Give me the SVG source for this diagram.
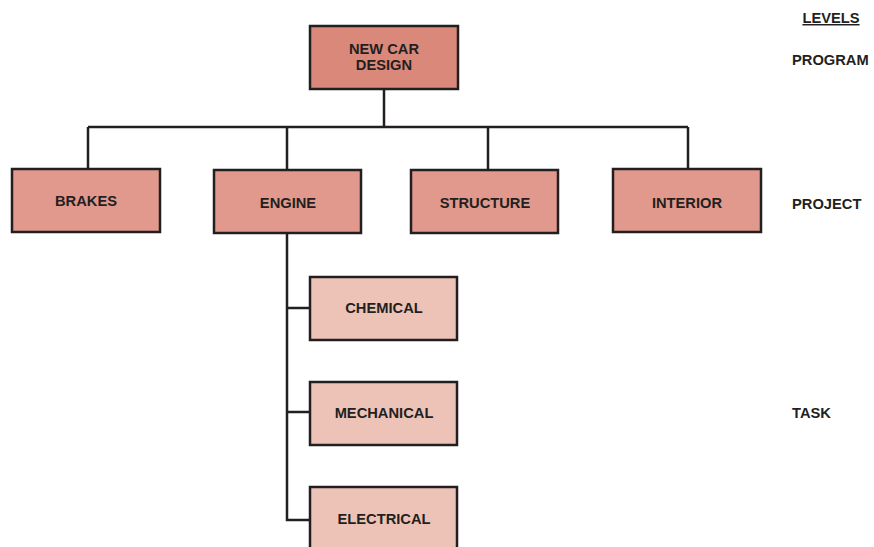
<svg xmlns="http://www.w3.org/2000/svg" width="874" height="547" viewBox="0 0 874 547">
<style>
.box{stroke:#231f20;stroke-width:2.5}
.prog{fill:#da887a}
.proj{fill:#e0998c}
.task{fill:#edc3b7}
.t{font-family:"Liberation Sans",Arial,sans-serif;font-weight:bold;font-size:14.7px;fill:#231f20;text-anchor:middle}
.lv{font-family:"Liberation Sans",Arial,sans-serif;font-weight:bold;font-size:14.7px;fill:#231f20}
.c{fill:none;stroke:#231f20;stroke-width:2.5}
</style>
<rect width="874" height="547" fill="#ffffff"/>
<g id="connectors">
<path class="c" d="M384 89V127M88 127H688M88 127V169M287 127V169M488 127V169M688 127V169"/>
<path class="c" d="M287 232V520H310M287 308H310M287 412H310"/>
</g>
<g id="new-car-design">
<rect class="box prog" x="310" y="26" width="148" height="63"/>
<text class="t" x="384" y="54">NEW CAR</text>
<text class="t" x="384" y="70">DESIGN</text>
</g>
<g id="brakes">
<rect class="box proj" x="12" y="169" width="148" height="63"/>
<text class="t" x="86" y="206">BRAKES</text>
</g>
<g id="engine">
<rect class="box proj" x="214" y="170" width="147" height="63"/>
<text class="t" x="288" y="208">ENGINE</text>
</g>
<g id="structure">
<rect class="box proj" x="411" y="170" width="147" height="63"/>
<text class="t" x="485" y="208">STRUCTURE</text>
</g>
<g id="interior">
<rect class="box proj" x="613" y="169" width="148" height="63"/>
<text class="t" x="687" y="208">INTERIOR</text>
</g>
<g id="chemical">
<rect class="box task" x="310" y="277" width="147" height="63"/>
<text class="t" x="384" y="313">CHEMICAL</text>
</g>
<g id="mechanical">
<rect class="box task" x="310" y="382" width="147" height="63"/>
<text class="t" x="384" y="418">MECHANICAL</text>
</g>
<g id="electrical">
<rect class="box task" x="310" y="487" width="147" height="63"/>
<text class="t" x="384" y="524">ELECTRICAL</text>
</g>
<g id="levels">
<text class="lv" x="831" y="23" text-anchor="middle" text-decoration="underline">LEVELS</text>
<text class="lv" x="792" y="65">PROGRAM</text>
<text class="lv" x="792" y="209">PROJECT</text>
<text class="lv" x="792" y="418">TASK</text>
</g>
</svg>
